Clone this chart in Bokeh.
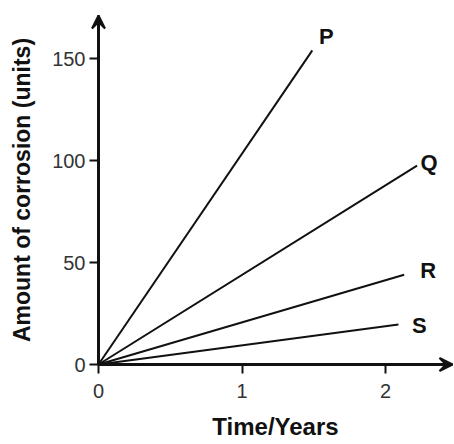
from bokeh.plotting import figure
from bokeh.models import Range1d, Arrow, VeeHead, ColumnDataSource
from bokeh.core.properties import value
from bokeh.embed import file_html
from bokeh.resources import INLINE

# ---- data ----
series = ["P", "Q", "R", "S"]
time_end = [1.49, 2.22, 2.13, 2.09]        # years at the end of each line
amount_end = [154.0, 97.5, 44.0, 19.6]     # corrosion units at the end of each line
x_ticks = [0, 1, 2]
y_ticks = [0, 50, 100, 150]

# label styling offsets (pixels)
label_dx = [14, 12, 24, 21]
label_dy = [-14, -3, -4, 1]

FONT = "Liberation Sans"
INK = "#111111"

W, H = 454, 444
X0_PX, Y0_PX = 98, 364          # where the origin sits on the canvas
PX_PER_YEAR, PX_PER_UNIT = 143.5, 2.04

p = figure(width=W, height=H, output_backend="svg", toolbar_location=None,
           x_range=Range1d(-X0_PX / PX_PER_YEAR, (W - X0_PX) / PX_PER_YEAR),
           y_range=Range1d(-(H - Y0_PX) / PX_PER_UNIT, Y0_PX / PX_PER_UNIT),
           min_border_left=0, min_border_right=0, min_border_top=0,
           min_border_bottom=0)
p.grid.visible = False
p.outline_line_color = None
p.background_fill_color = "white"
p.border_fill_color = "white"

x_tip = (452 - X0_PX) / PX_PER_YEAR
y_tip = (Y0_PX - 15) / PX_PER_UNIT

p.xaxis.ticker = x_ticks
p.yaxis.ticker = y_ticks
p.xaxis.fixed_location = 0
p.yaxis.fixed_location = 0
p.xaxis.bounds = (0, x_tip)
p.yaxis.bounds = (0, y_tip)
for ax in (p.xaxis[0], p.yaxis[0]):
    ax.axis_line_width = 3
    ax.axis_line_color = INK
    ax.major_tick_line_width = 2
    ax.major_tick_line_color = INK
    ax.major_tick_out = 9
    ax.major_tick_in = 0
    ax.minor_tick_line_color = None
    ax.major_label_text_font = FONT
    ax.major_label_text_font_size = "20px"
    ax.major_label_text_color = "#333333"
    ax.axis_label_text_font = FONT
    ax.axis_label_text_font_style = "bold"
    ax.axis_label_text_color = INK

p.xaxis.axis_label = "Time/Years"
p.yaxis.axis_label = "Amount of corrosion (units)"
p.xaxis.axis_label_text_font_size = "24px"
p.yaxis.axis_label_text_font_size = "23px"
p.xaxis.major_label_standoff = 10
p.yaxis.major_label_standoff = 4
p.xaxis.axis_label_standoff = 12
p.yaxis.axis_label_standoff = 14

# axis arrow heads
head = dict(size=13, line_width=2, line_color=INK, fill_color=INK)
p.add_layout(Arrow(end=VeeHead(**head), x_start=0, y_start=y_tip - 5,
                   x_end=0, y_end=y_tip, line_width=3, line_color=INK))
p.add_layout(Arrow(end=VeeHead(**head), x_start=x_tip - 0.05, y_start=0,
                   x_end=x_tip, y_end=0, line_width=3, line_color=INK))

src = ColumnDataSource(dict(
    xs=[[0, t] for t in time_end],
    ys=[[0, a] for a in amount_end],
    x=time_end, y=amount_end, name=series, dx=label_dx, dy=label_dy))

p.multi_line(xs="xs", ys="ys", source=src, line_color=INK, line_width=2)
p.text(x="x", y="y", text="name", x_offset="dx", y_offset="dy", source=src,
       text_font=value(FONT), text_font_style="bold", text_font_size="22px",
       text_align="center", text_baseline="middle", text_color=INK)

open("out.html", "w").write(file_html(p, INLINE))
